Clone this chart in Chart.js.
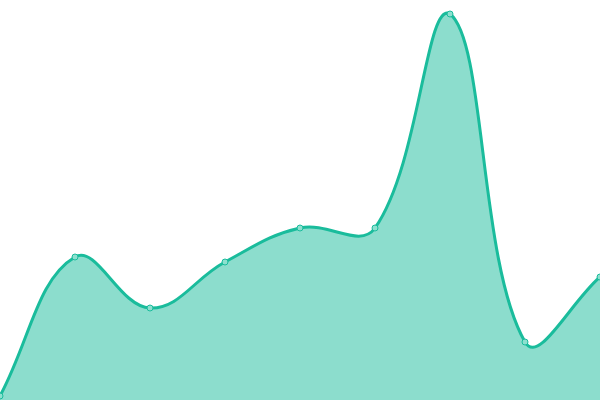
<!DOCTYPE html>
<html>
<head>
<meta charset="utf-8">
<script src="https://cdn.jsdelivr.net/npm/chart.js@4"></script>
<style>
html,body{margin:0;padding:0;background:#fff;}
#wrap{width:600px;height:400px;}
</style>
</head>
<body>
<div id="wrap"><canvas id="c"></canvas></div>
<script>
const labels = ["1","2","3","4","5","6","7","8","9"];
const values = [4, 143, 92, 138, 172, 172, 386, 58, 123];
const yMin = 0;
const yMax = 400;

new Chart(document.getElementById('c'), {
  type: 'line',
  data: {
    labels: labels,
    datasets: [{
      data: values,
      borderColor: '#1abc9c',
      backgroundColor: 'rgba(26,188,156,0.5)',
      pointBackgroundColor: '#8de0cf',
      pointBorderColor: '#1abc9c',
      pointRadius: 3,
      pointBorderWidth: 1,
      borderWidth: 3,
      fill: true,
      tension: 0.4
    }]
  },
  options: {
    responsive: true,
    maintainAspectRatio: false,
    animation: false,
    layout: { padding: 0, autoPadding: false },
    plugins: { legend: { display: false }, tooltip: { enabled: false } },
    scales: {
      x: { display: false, offset: false },
      y: { display: false, min: yMin, max: yMax }
    }
  }
});
</script>
</body>
</html>
